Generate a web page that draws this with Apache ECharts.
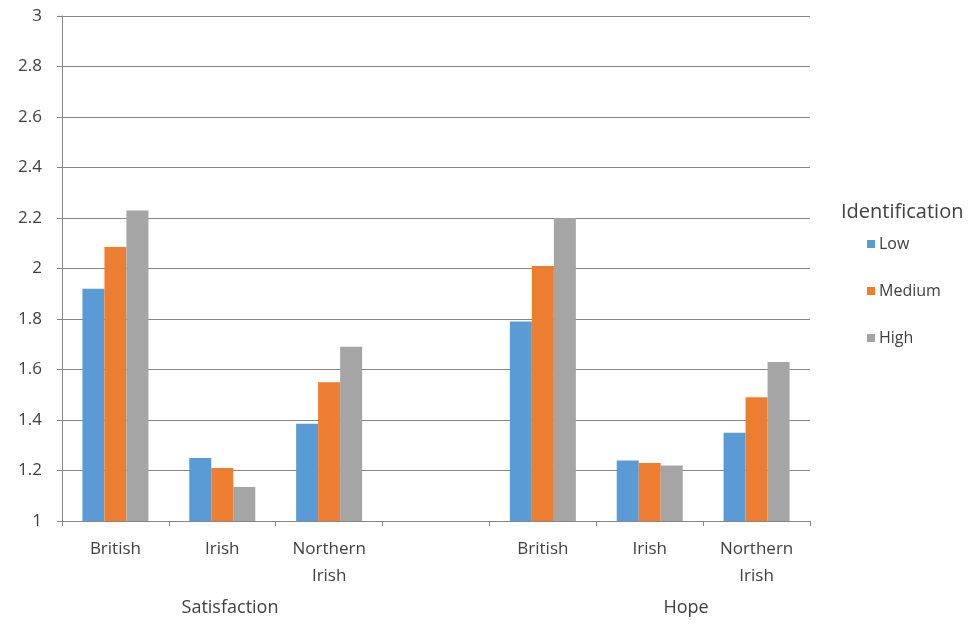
<!DOCTYPE html>
<html>
<head>
<meta charset="utf-8">
<script src="https://cdn.jsdelivr.net/npm/echarts@6/dist/echarts.min.js"></script>
<style>html,body{margin:0;padding:0;background:#fff;}#c{width:973px;height:624px;}</style>
</head>
<body>
<div id="c"></div>
<script>
const categories = ['British', 'Irish', 'Northern\nIrish', '', 'British', 'Irish', 'Northern\nIrish'];
const groupLabels = ['Satisfaction', 'Hope'];
const legendTitle = 'Identification';
const seriesNames = ['Low', 'Medium', 'High'];
const lowValues = [1.92, 1.25, 1.385, null, 1.79, 1.24, 1.35];
const mediumValues = [2.085, 1.21, 1.55, null, 2.01, 1.23, 1.49];
const highValues = [2.23, 1.135, 1.69, null, 2.2, 1.22, 1.63];
const colors = ['#5B9BD5', '#ED7D31', '#A5A5A5'];

const font = '"Open Sans", "Liberation Sans", sans-serif';
const chart = echarts.init(document.getElementById('c'));
const values = [lowValues, mediumValues, highValues];
chart.setOption({
  animation: false,
  grid: { left: 62, right: 163, top: 16, bottom: 103, containLabel: false },
  legend: {
    orient: 'vertical', left: 862, top: 231, itemWidth: 8, itemHeight: 8, itemGap: 31,
    icon: 'rect',
    textStyle: { fontFamily: font, fontSize: 16, lineHeight: 16, color: '#404040', padding: [0, 0, 0, -1] },
    data: seriesNames
  },
  xAxis: {
    type: 'category', data: categories,
    axisLine: { lineStyle: { color: '#868686', width: 1 } },
    axisTick: { show: true, length: 5, lineStyle: { color: '#868686' } },
    axisLabel: { fontFamily: font, fontSize: 17, color: '#404040', margin: 15, lineHeight: 27, interval: 0 }
  },
  yAxis: {
    type: 'value', min: 1, max: 3, interval: 0.2,
    axisLine: { show: true, lineStyle: { color: '#868686' } },
    axisTick: { show: true, length: 5, lineStyle: { color: '#868686' } },
    splitLine: { lineStyle: { color: '#868686', width: 1 } },
    axisLabel: { fontFamily: font, fontSize: 17, color: '#404040', margin: 20,
      formatter: v => String(Math.round(v * 10) / 10) }
  },
  series: seriesNames.map((n, i) => ({
    name: n, type: 'bar', data: values[i], barWidth: 22, barGap: '0%',
    itemStyle: { color: colors[i] }
  })),
  graphic: [
    { type: 'text', x: 841, y: 212, style: { text: legendTitle, font: '20px ' + font, fill: '#404040', align: 'left', verticalAlign: 'middle' } },
    { type: 'text', x: 230, y: 608, style: { text: groupLabels[0], font: '18px ' + font, fill: '#404040', align: 'center', verticalAlign: 'middle' } },
    { type: 'text', x: 686, y: 608, style: { text: groupLabels[1], font: '18px ' + font, fill: '#404040', align: 'center', verticalAlign: 'middle' } }
  ]
});
</script>
</body>
</html>
